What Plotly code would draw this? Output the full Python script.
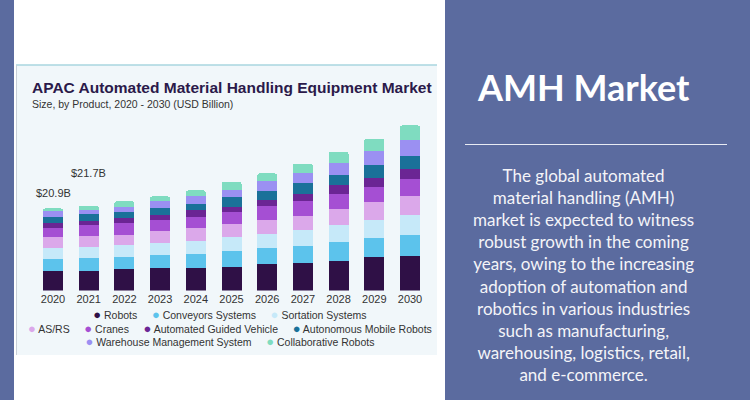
import plotly.graph_objects as go

years = ["2020", "2021", "2022", "2023", "2024", "2025", "2026", "2027", "2028", "2029", "2030"]

robots     = [5.10, 5.10, 5.46, 5.79, 5.71, 6.12, 6.73, 7.14, 7.57, 8.42, 8.85]
conveyors  = [2.91, 3.06, 2.96, 3.14, 3.57, 3.83, 4.08, 4.26, 4.77, 4.95, 5.36]
sortation  = [2.81, 2.88, 3.06, 3.16, 3.39, 3.57, 3.57, 4.08, 4.41, 4.67, 5.10]
asrs       = [2.70, 2.88, 2.73, 2.96, 3.24, 3.42, 3.65, 3.57, 4.08, 4.41, 4.74]
cranes     = [2.47, 2.81, 2.98, 2.81, 2.81, 2.96, 3.39, 3.83, 3.83, 3.93, 4.44]
agv        = [1.20, 1.10, 1.28, 1.45, 1.68, 1.38, 1.71, 1.79, 2.12, 2.30, 2.45]
amr        = [1.53, 1.61, 1.43, 1.71, 1.71, 2.45, 2.12, 2.73, 2.55, 3.21, 3.32]
wms        = [1.43, 1.10, 1.28, 1.68, 2.04, 1.96, 2.55, 2.55, 3.16, 3.57, 4.18]
collab     = [0.77, 1.02, 1.53, 1.28, 1.35, 1.96, 2.04, 2.37, 2.81, 3.16, 3.65]

series_names = ["Robots", "Conveyors Systems", "Sortation Systems", "AS/RS", "Cranes",
                "Automated Guided Vehicle", "Autonomous Mobile Robots",
                "Warehouse Management System", "Collaborative Robots"]
series_values = [robots, conveyors, sortation, asrs, cranes, agv, amr, wms, collab]
series_colors = ["#2f1046", "#5cc3ec", "#c6e9f9", "#dba8ea", "#a54fd3",
                 "#6b2594", "#1a7199", "#9b90f2", "#7fdcc0"]

value_labels = {"2020": "$20.9B", "2021": "$21.7B"}
value_label_shift = {"2020": 15, "2021": 33}

legend_rows = [[0, 1, 2], [3, 4, 5, 6], [7, 8]]

side_title = "AMH Market"
side_text = ("The global automated<br>material handling (AMH)<br>market is expected to witness<br>"
             "robust growth in the coming<br>years, owing to the increasing<br>adoption of automation and<br>"
             "robotics in various industries<br>such as manufacturing,<br>warehousing, logistics, retail,<br>"
             "and e-commerce.")

W, H = 750, 400
def px(x):
    return x / W
def py(y):
    return 1 - y / H

fig = go.Figure()
for name, vals, col in zip(series_names, series_values, series_colors):
    fig.add_trace(go.Bar(x=years, y=vals, name=name, marker=dict(color=col, line=dict(width=0)),
                         showlegend=False, hoverinfo="x+y+name"))

totals = [sum(v[i] for v in series_values) for i in range(len(years))]

annotations = []
for yr, lab in value_labels.items():
    i = years.index(yr)
    annotations.append(dict(x=i, y=totals[i], xref="x", yref="y", text=lab, showarrow=False,
                            yshift=value_label_shift[yr], font=dict(family="Liberation Sans", size=11, color="#333333")))

# chart title / subtitle
annotations.append(dict(x=px(30), y=py(88), xref="paper", yref="paper", xanchor="left", yanchor="middle",
                        text="<b>APAC Automated Material Handling Equipment Market</b>", showarrow=False,
                        font=dict(family="Liberation Sans", size=15.5, color="#2b1a4a")))
annotations.append(dict(x=px(30), y=py(104), xref="paper", yref="paper", xanchor="left", yanchor="middle",
                        text="Size, by Product, 2020 - 2030 (USD Billion)", showarrow=False,
                        font=dict(family="Liberation Sans", size=10.5, color="#333333")))

# legend (three centred rows in one text block)
rows = []
for idxs in legend_rows:
    parts = []
    for i in idxs:
        parts.append("<span style='color:%s;font-size:13px'>●</span> %s" % (series_colors[i], series_names[i]))
    rows.append("&nbsp;&nbsp;&nbsp;&nbsp;&nbsp;".join(parts))
annotations.append(dict(x=px(230), y=py(328), xref="paper", yref="paper", xanchor="center",
                        yanchor="middle", text="<br>".join(rows), showarrow=False, align="center",
                        font=dict(family="Liberation Sans", size=10.5, color="#333333")))

# right panel
annotations.append(dict(x=px(583), y=py(87), xref="paper", yref="paper", xanchor="center", yanchor="middle",
                        text="<b>" + side_title + "</b>", showarrow=False,
                        font=dict(family="Lato", size=36, color="#ffffff")))
annotations.append(dict(x=px(583), y=py(275), xref="paper", yref="paper", xanchor="center", yanchor="middle",
                        text=side_text, showarrow=False, align="center",
                        font=dict(family="Lato", size=17, color="#f4f4f8")))

shapes = [
    dict(type="rect", xref="paper", yref="paper", x0=px(14), x1=px(445), y0=0, y1=1,
         fillcolor="#ffffff", line=dict(width=0), layer="below"),
    dict(type="rect", xref="paper", yref="paper", x0=px(16), x1=px(437), y0=py(355), y1=py(65),
         fillcolor="#f1f7fa", line=dict(width=0), layer="below"),
    dict(type="line", xref="paper", yref="paper", x0=px(16), x1=px(437), y0=py(65), y1=py(65),
         line=dict(color="#a9d6df", width=1.5), layer="below"),
    dict(type="line", xref="paper", yref="paper", x0=px(16.5), x1=px(16.5), y0=py(355), y1=py(65),
         line=dict(color="#c9d0d8", width=1), layer="below"),
    dict(type="line", xref="paper", yref="paper", x0=px(465), x1=px(727), y0=py(144.5), y1=py(144.5),
         line=dict(color="#e8ebf3", width=1)),
]

x_left = 53 - 35.7 / 2
x_right = 410 + 35.7 / 2
fig.update_layout(
    width=W, height=H, margin=dict(l=0, r=0, t=0, b=0, autoexpand=False),
    paper_bgcolor="#5b6b9f", plot_bgcolor="rgba(0,0,0,0)",
    barmode="stack", bargap=0.44, barcornerradius=2,
    xaxis=dict(type="category", domain=[px(x_left), px(x_right)], range=[-0.5, 10.5], showgrid=False,
               showline=False, zeroline=False, ticks="", automargin=False,
               tickfont=dict(family="Liberation Sans", size=11, color="#333333"), fixedrange=True),
    yaxis=dict(range=[0, 45], domain=[py(290.5), py(114)], visible=False, fixedrange=True, automargin=False),
    annotations=annotations, shapes=shapes, showlegend=False,
)

fig.write_html("out.html")
